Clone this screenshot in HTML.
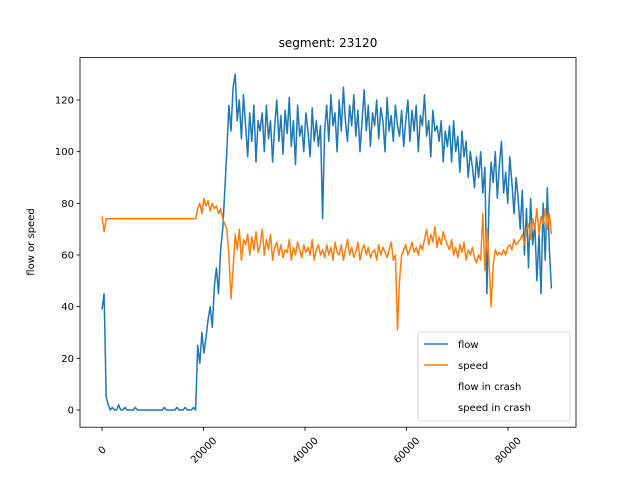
<!DOCTYPE html>
<html><head><meta charset="utf-8"><style>
html,body{margin:0;padding:0;background:#fff}
svg{display:block;font-family:"DejaVu Sans","Liberation Sans",sans-serif}
</style></head><body>
<svg id="chart" width="640" height="480" viewBox="0 0 640 480">
<rect x="0" y="0" width="640" height="480" fill="#fff"/>
<text x="328" y="47" text-anchor="middle" font-size="12">segment: 23120</text>
<text transform="translate(34,242) rotate(-90)" text-anchor="middle" font-size="10">flow or speed</text>
<g id="plot"></g>
<rect x="80" y="57.6" width="496" height="369.6" fill="none" stroke="#000" stroke-width="0.8"/>
<g>
<rect x="418" y="332" width="152" height="89" rx="2" fill="#fff" fill-opacity="0.8" stroke="#ccc" stroke-width="0.8"/>
<line x1="424" y1="344" x2="448" y2="344" stroke="#1f77b4" stroke-width="1.5"/>
<text x="458" y="348" font-size="10">flow</text>
<line x1="424" y1="365" x2="448" y2="365" stroke="#ff7f0e" stroke-width="1.5"/>
<text x="458" y="369" font-size="10">speed</text>
<text x="458" y="390" font-size="10">flow in crash</text>
<text x="458" y="411" font-size="10">speed in crash</text>
</g>
</svg>
<script>
const step = 410;
const xTicks = [0, 20000, 40000, 60000, 80000];
const yTicks = [0, 20, 40, 60, 80, 100, 120];
const flow = [39,45,5,2,0,1,0,0,2,0,0,1,0,0,0,0,1,0,0,0,0,0,0,0,0,0,0,0,0,0,1,0,0,0,0,0,1,0,0,0,1,0,0,0,1,0,
25,18,30,22,28,35,40,32,48,55,45,62,70,85,100,
118,108,125,130,112,120,105,122,110,98,115,104,118,96,112,
108,115,100,118,105,112,96,110,120,104,114,99,116,107,121,102,112,95,118,106,110,100,115,108,98,117,104,112,102,110,
74,108,118,104,122,110,115,100,120,108,125,112,104,118,110,122,106,116,100,112,124,108,118,102,115,110,120,105,117,112,100,121,108,114,104,118,110,106,116,102,
112,120,104,116,108,118,100,114,110,122,106,112,98,116,108,110,104,112,96,108,
102,110,96,112,100,106,92,108,98,104,90,100,94,86,98,
90,100,84,94,45,80,96,88,100,82,
95,104,84,92,80,98,88,76,90,82,
70,85,60,78,55,82,64,72,50,68,45,80,58,86,62,47];
const speed = [75,69,74,74,74,74,74,74,74,74,74,74,74,74,74,74,74,74,74,74,74,74,74,74,74,74,74,74,74,74,74,74,74,74,74,74,74,74,74,74,74,74,74,74,74,74,
78,80,76,82,79,81,77,80,78,79,76,78,74,72,70,
60,43,55,68,62,70,58,66,64,68,60,67,62,69,61,
64,70,60,66,62,68,58,63,65,60,64,59,62,61,66,58,63,60,65,62,59,64,61,63,60,66,58,62,64,60,
62,59,64,60,63,58,65,61,60,64,58,62,66,60,63,59,61,65,58,62,64,60,63,59,61,62,58,64,60,63,61,59,62,65,58,60,31,50,60,62,
64,60,62,65,61,63,60,64,62,66,70,64,68,65,71,63,67,64,69,66,
64,62,66,60,63,59,64,61,65,58,62,60,63,59,57,
60,58,76,54,70,58,40,56,62,60,
61,60,62,60,63,64,62,66,64,65,
66,68,64,70,72,66,74,70,78,68,75,72,78,70,76,68];

const NS = "http://www.w3.org/2000/svg";
const svg = document.getElementById('chart');
const plot = document.getElementById('plot');
const X0 = 80, X1 = 576, Y0 = 57.6, Y1 = 427.2;
const xMin = -4335, xMax = 93400;
const yAt0 = 410, pxPerUnit = 310 / 120;
function sx(v){ return X0 + (v - xMin) / (xMax - xMin) * (X1 - X0); }
function sy(v){ return yAt0 - v * pxPerUnit; }

function mk(tag, attrs){ const e = document.createElementNS(NS, tag); for (const k in attrs) e.setAttribute(k, attrs[k]); return e; }

xTicks.forEach(t => {
  const x = sx(t);
  const tk = mk('line', {x1:x, y1:Y1, x2:x, y2:Y1+3.5, stroke:'#000', 'stroke-width':0.8});
  
  
  svg.appendChild(tk);
  const lb = mk('text', {'font-size':10, 'text-anchor':'middle', transform:'translate(' + x + ',' + 450 + ') rotate(-45)', dy:'0.35em'});
  lb.textContent = String(t);
  
  
  svg.appendChild(lb);
});
yTicks.forEach(t => {
  const y = sy(t);
  const tk = mk('line', {x1:X0-3.5, y1:y, x2:X0, y2:y, stroke:'#000', 'stroke-width':0.8});
  
  
  svg.appendChild(tk);
  const lb = mk('text', {x:X0-6, y:y+3.5, 'font-size':10, 'text-anchor':'end'});
  lb.textContent = String(t);
  
  
  svg.appendChild(lb);
});
function line(arr, color, name){
  const pts = arr.map((v,i) => sx(i*step).toFixed(1) + ',' + sy(v).toFixed(1)).join(' ');
  const p = mk('polyline', {points:pts, fill:'none', stroke:color, 'stroke-width':1.5, 'stroke-linejoin':'round'});
  
  
  plot.appendChild(p);
}
line(flow, '#1f77b4', 'flow-line');
line(speed, '#ff7f0e', 'speed-line');
</script>
</body></html>
